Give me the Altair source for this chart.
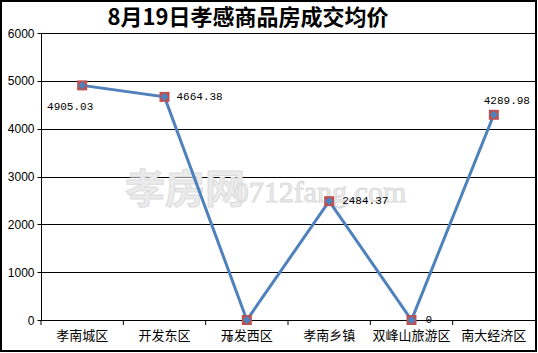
import altair as alt
import pandas as pd

categories = ["孝南城区", "开发东区", "开发西区", "孝南乡镇", "双峰山旅游区", "南大经济区"]
prices = [4905.03, 4664.38, 0, 2484.37, 0, 4289.98]
labels = ["4905.03", "4664.38", "0", "2484.37", "0", "4289.98"]
y_ticks = [0, 1000, 2000, 3000, 4000, 5000, 6000]
title_text = ["8月19日孝感商品房成交均价"]
watermark = ["孝房网", "0712fang.com"]

df = pd.DataFrame({"cat": categories, "price": prices, "label": labels})

W, H = 494, 287
BLUE = "#4F81BD"
RED = "#C0504D"
CJK = "Noto Sans CJK SC"

xscale = alt.Scale(type="band", paddingInner=0, paddingOuter=0)
yscale = alt.Scale(domain=[0, 6000])
x_ax = alt.Axis(title=None, labelAngle=0, ticks=False, tickSize=0, labelPadding=9,
                labelFont=CJK, labelFontSize=13, labelColor="black",
                domainColor="black", domainWidth=1, grid=False)
y_ax = alt.Axis(values=y_ticks, format="d", title=None, grid=True, gridColor="black",
                gridOpacity=1, gridWidth=1, domainColor="black", tickColor="black",
                tickSize=4, labelFont="Liberation Sans", labelFontSize=12,
                labelColor="black", labelPadding=3)

x_enc = alt.X("cat:N", sort=categories, scale=xscale, axis=x_ax)
y_enc = alt.Y("price:Q", scale=yscale, axis=y_ax)

base = alt.Chart(df)

line = base.mark_line(color=BLUE, strokeWidth=3).encode(x=x_enc, y=y_enc)

ticks = base.mark_rule(color="black", strokeWidth=1).encode(
    x=alt.X("cat:N", sort=categories, scale=xscale, axis=x_ax, bandPosition=0),
    y=alt.value(H), y2=alt.value(H + 5))

squares = base.mark_point(shape="square", filled=True, color=RED, size=100, opacity=1).encode(
    x=x_enc, y=y_enc)
diamonds = base.mark_point(shape="diamond", filled=True, color=BLUE, size=70, opacity=1).encode(
    x=x_enc, y=y_enc)


def lab(i, dx, dy, align):
    return base.transform_filter(alt.datum.cat == categories[i]).mark_text(
        dx=dx, dy=dy, align=align, baseline="middle", font="Liberation Mono",
        fontSize=11, color="black").encode(x=x_enc, y=y_enc, text="label:N")


label_layers = [
    lab(0, -12, 22, "center"),
    lab(1, 12, 0, "left"),
    lab(2, -17, 19, "center"),
    lab(3, 13, 0, "left"),
    lab(4, 14, 0, "left"),
    lab(5, 13, -14, "center"),
]

wm_df = pd.DataFrame({"t": watermark})
wm1 = alt.Chart(wm_df).transform_filter(alt.datum.t == watermark[0]).mark_text(
    font=CJK, fontSize=40, fontWeight="bold", color="#ebebeb", stroke="#dcdcdc", strokeWidth=1,
    baseline="middle", align="center"
).encode(text="t:N", x=alt.value(144), y=alt.value(158))
wm2 = alt.Chart(wm_df).transform_filter(alt.datum.t == watermark[1]).mark_text(
    font="Liberation Serif", fontSize=30, color="#ebebeb", stroke="#dcdcdc", strokeWidth=1,
    baseline="middle", align="center"
).encode(text="t:N", x=alt.value(279), y=alt.value(160))

title = alt.Chart(pd.DataFrame({"t": title_text})).mark_text(
    font=CJK, fontSize=22, fontWeight="bold", color="black", baseline="middle", align="center"
).encode(text="t:N", x=alt.value(207), y=alt.value(-15))

frame = alt.Chart(pd.DataFrame({"a": [0]})).mark_rect(
    fill="transparent", stroke="black", strokeWidth=2).encode(
    x=alt.value(-40), x2=alt.value(W + 1), y=alt.value(-32), y2=alt.value(H + 31))

chart = alt.layer(
    wm1, wm2, line, ticks, squares, diamonds, *label_layers, title, frame
).properties(
    width=W, height=H,
    padding={"left": 41, "top": 33, "right": 3, "bottom": 33},
    autosize=alt.AutoSizeParams(type="none"),
    background="white",
).configure_view(strokeWidth=0)

chart.save("out.html", embed_options={"renderer": "svg", "actions": False})
